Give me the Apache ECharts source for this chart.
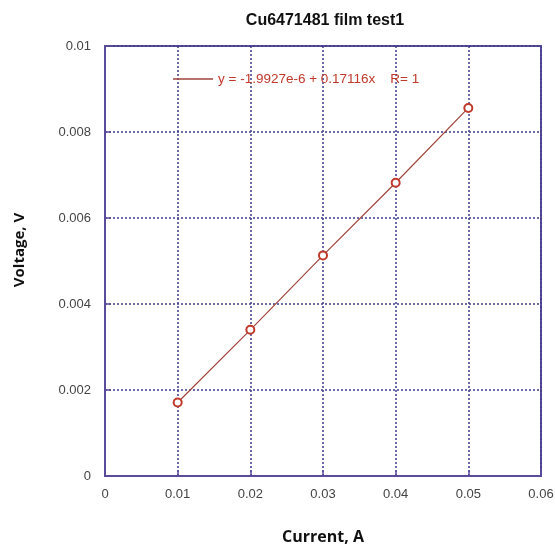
<!DOCTYPE html>
<html>
<head>
<meta charset="utf-8">
<script src="https://cdn.jsdelivr.net/npm/echarts@6/dist/echarts.min.js"></script>
<style>html,body{margin:0;padding:0;background:#fff;}#c{width:555px;height:545px;}</style>
</head>
<body>
<div id="c"></div>
<script>
var current = [0.01, 0.02, 0.03, 0.04, 0.05];
var voltage = [0.00171, 0.00340, 0.00513, 0.00682, 0.00856];
var fitLabel = 'y = -1.9927e-6 + 0.17116x    R= 1';
var titleText = 'Cu6471481 film test1';
var xName = 'Current, A';
var yName = 'Voltage, V';

var data = current.map(function (x, i) { return [x, voltage[i]]; });
var frame = '#5b4b9b';
var gridLine = { show: true, lineStyle: { type: [2, 2], color: '#3c3c8c', width: 1.5 } };

var chart = echarts.init(document.getElementById('c'));
chart.setOption({
  animation: false,
  backgroundColor: '#fff',
  title: {
    text: titleText, left: 320, textAlign: 'center', top: 8,
    textStyle: { fontFamily: 'Liberation Sans, Arial', fontSize: 16, fontWeight: 'bold', color: '#111' }
  },
  legend: {
    left: 168, top: 67, icon: 'rect', itemWidth: 40, itemHeight: 1.6, itemGap: 4,
    itemStyle: { borderWidth: 0, color: '#a0453c' },
    data: [fitLabel],
    textStyle: { color: '#c0392b', fontFamily: 'Liberation Sans, Arial', fontSize: 13.5 }
  },
  grid: { left: 105, right: 14, top: 46, bottom: 69, show: true, borderColor: frame, borderWidth: 2,
    containLabel: false, outerBoundsMode: 'none' },
  graphic: [{
    type: 'text', x: 20, y: 250, rotation: Math.PI / 2,
    style: { text: yName, textAlign: 'center', textVerticalAlign: 'middle',
      fontFamily: 'Open Sans, Noto Sans', fontSize: 15, fontWeight: 'bold', fill: '#111' }
  }],
  xAxis: {
    type: 'value', min: 0, max: 0.06, interval: 0.01,
    name: xName, nameLocation: 'middle', nameGap: 53,
    nameTextStyle: { fontFamily: 'Open Sans, Noto Sans', fontSize: 16, fontWeight: 'bold', color: '#111' },
    axisLine: { show: true, lineStyle: { color: frame, width: 2 } },
    axisTick: { show: true, inside: true, length: 6, lineStyle: { color: frame, width: 1.5 } },
    axisLabel: { margin: 12, color: '#444', fontFamily: 'Liberation Sans, Arial', fontSize: 13 },
    splitLine: gridLine
  },
  yAxis: {
    type: 'value', min: 0, max: 0.01, interval: 0.002,
    axisLine: { show: true, lineStyle: { color: frame, width: 2 } },
    axisTick: { show: true, inside: true, length: 6, lineStyle: { color: frame, width: 1.5 } },
    axisLabel: { margin: 14, color: '#444', fontFamily: 'Liberation Sans, Arial', fontSize: 13 },
    splitLine: gridLine
  },
  series: [{
    name: fitLabel, type: 'line', data: data,
    symbol: 'emptyCircle', symbolSize: 8,
    lineStyle: { color: '#a0453c', width: 1.2 },
    itemStyle: { color: '#c0392b', borderColor: '#c0392b', borderWidth: 1.5 }
  }]
});
</script>
</body>
</html>
